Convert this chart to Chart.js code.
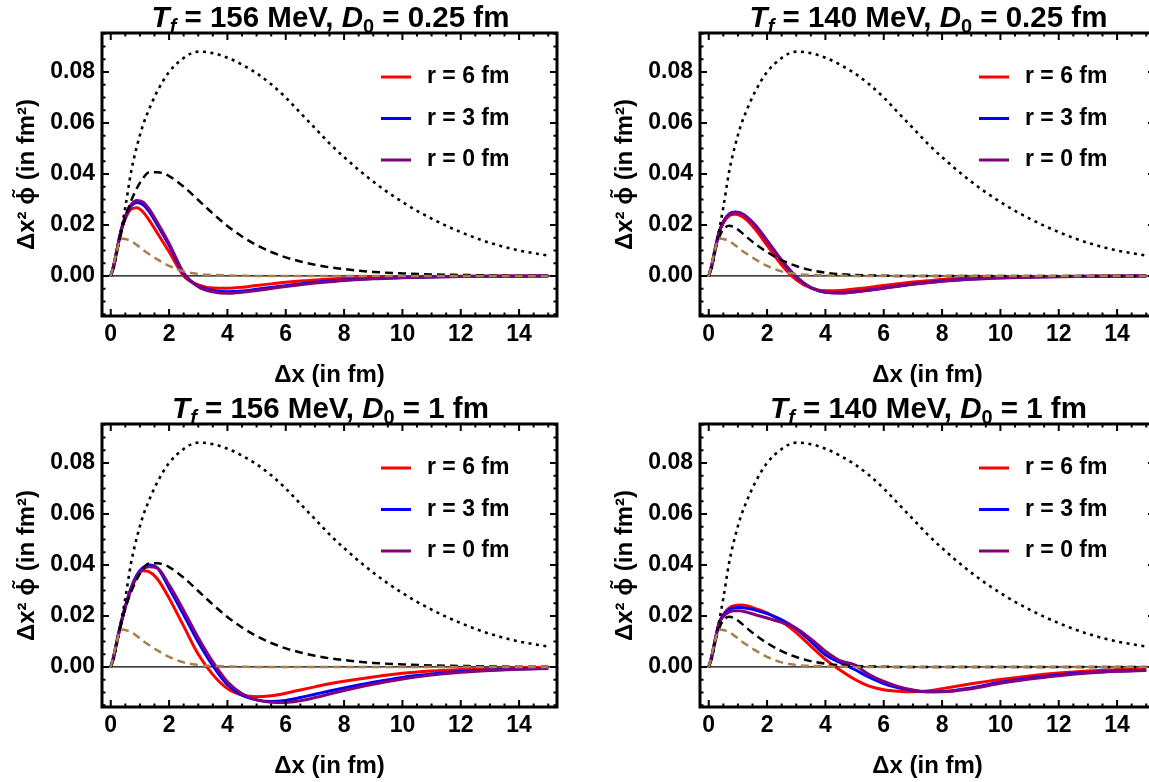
<!DOCTYPE html>
<html>
<head>
<meta charset="utf-8">
<script src="https://cdn.jsdelivr.net/npm/chart.js@4.4.0/dist/chart.umd.min.js"></script>
<style>
html,body{margin:0;padding:0;background:#fff;overflow:hidden;width:1149px;height:782px;}
.p{position:absolute;width:574px;height:391px;}
</style>
</head>
<body>
<div class="p" style="left:0px;top:0px"><canvas id="c0" width="574" height="391"></canvas></div>
<div class="p" style="left:598px;top:0px"><canvas id="c1" width="574" height="391"></canvas></div>
<div class="p" style="left:0px;top:391px"><canvas id="c2" width="574" height="391"></canvas></div>
<div class="p" style="left:598px;top:391px"><canvas id="c3" width="574" height="391"></canvas></div>
<script>
// ---- data ----
const X = [0, 0.1, 0.2, 0.35, 0.5, 0.7, 0.9, 1.1, 1.3, 1.6, 2.0, 2.5, 3.0, 3.5, 4.0, 4.5, 5.0, 5.5, 6.0, 6.5, 7.0, 7.5, 8.0, 9.0, 10, 11, 12, 13, 14, 15];

const dotted = [0, 0.003, 0.0085, 0.0175, 0.027, 0.041, 0.051, 0.059, 0.065, 0.0725, 0.080, 0.0855, 0.088, 0.0874, 0.0856, 0.0829, 0.0795, 0.0752, 0.0700, 0.0640, 0.0580, 0.0520, 0.0466, 0.0370, 0.0290, 0.0225, 0.0172, 0.0130, 0.0100, 0.0080];
const brown = [0, 0.0045, 0.0095, 0.0147, 0.0145, 0.0137, 0.0121, 0.0103, 0.0087, 0.0065, 0.0040, 0.0018, 0.0008, 0.0004, 0.0002, 0.0001, 0, 0, 0, 0, 0, 0, 0, 0, 0, 0, 0, 0, 0, 0];
const dash156 = [0, 0.004, 0.0092, 0.0165, 0.023, 0.0295, 0.0345, 0.0382, 0.0406, 0.0407, 0.0392, 0.0350, 0.0298, 0.0245, 0.0196, 0.0155, 0.0121, 0.0094, 0.0073, 0.0057, 0.0044, 0.0034, 0.0027, 0.0016, 0.001, 0.0006, 0.0004, 0.0002, 0.0001, 0.0001];
const dash140 = [0, 0.004, 0.0092, 0.0150, 0.0183, 0.0197, 0.0190, 0.0173, 0.0153, 0.0125, 0.0094, 0.0062, 0.0039, 0.0023, 0.0013, 0.0007, 0.0004, 0.0002, 0.0001, 0, 0, 0, 0, 0, 0, 0, 0, 0, 0, 0];

const tl_r6 = [0, 0.004, 0.0095, 0.0175, 0.0225, 0.0262, 0.0268, 0.0252, 0.0222, 0.0168, 0.0095, 0.0000, -0.0035, -0.0047, -0.0048, -0.0044, -0.0037, -0.0031, -0.0025, -0.0020, -0.0016, -0.0012, -0.0009, -0.0005, -0.0003, -0.0002, -0.0001, -0.0001, 0, 0];
const tl_r3 = [0, 0.004, 0.0095, 0.0176, 0.0232, 0.0275, 0.0288, 0.0280, 0.0255, 0.0200, 0.0120, 0.0008, -0.0040, -0.0057, -0.0062, -0.0059, -0.0052, -0.0045, -0.0038, -0.0031, -0.0025, -0.0020, -0.0016, -0.0010, -0.0006, -0.0004, -0.0002, -0.0001, -0.0001, 0];
const tl_r0 = [0, 0.004, 0.0095, 0.0177, 0.0235, 0.0280, 0.0296, 0.0290, 0.0265, 0.0210, 0.0128, 0.0012, -0.0042, -0.0062, -0.0068, -0.0064, -0.0057, -0.0049, -0.0041, -0.0034, -0.0028, -0.0023, -0.0018, -0.0011, -0.0007, -0.0004, -0.0002, -0.0001, -0.0001, 0];

const tr_r6 = [0, 0.004, 0.0095, 0.0168, 0.0208, 0.0236, 0.0242, 0.0236, 0.0220, 0.0182, 0.0120, 0.0043, -0.0015, -0.0047, -0.0058, -0.0057, -0.0051, -0.0045, -0.0037, -0.0030, -0.0024, -0.0019, -0.0014, -0.0008, -0.0005, -0.0003, -0.0002, -0.0001, 0, 0];
const tr_r3 = [0, 0.004, 0.0095, 0.0170, 0.0213, 0.0243, 0.0251, 0.0246, 0.0232, 0.0198, 0.0138, 0.0060, -0.0004, -0.0046, -0.0064, -0.0066, -0.0062, -0.0055, -0.0047, -0.0039, -0.0032, -0.0026, -0.0020, -0.0012, -0.0007, -0.0004, -0.0002, -0.0001, -0.0001, 0];
const tr_r0 = [0, 0.004, 0.0095, 0.0170, 0.0212, 0.0241, 0.0249, 0.0245, 0.0232, 0.0199, 0.0140, 0.0062, -0.0002, -0.0045, -0.0064, -0.0067, -0.0063, -0.0056, -0.0048, -0.0040, -0.0033, -0.0027, -0.0021, -0.0013, -0.0008, -0.0005, -0.0003, -0.0002, -0.0001, 0];

const bl_r6 = [0, 0.004, 0.0095, 0.0170, 0.0235, 0.0305, 0.0355, 0.0377, 0.0374, 0.0345, 0.0270, 0.0160, 0.0050, -0.0030, -0.0085, -0.0110, -0.0117, -0.0113, -0.0103, -0.0090, -0.0078, -0.0066, -0.0056, -0.0039, -0.0025, -0.0016, -0.0010, -0.0006, -0.0003, -0.0001];
const bl_r3 = [0, 0.004, 0.0095, 0.0171, 0.0238, 0.0312, 0.0362, 0.0390, 0.0400, 0.0388, 0.0310, 0.0205, 0.0098, 0.0005, -0.0070, -0.0111, -0.0129, -0.0135, -0.0131, -0.0120, -0.0107, -0.0094, -0.0082, -0.0060, -0.0041, -0.0028, -0.0018, -0.0012, -0.0008, -0.0005];
const bl_r0 = [0, 0.004, 0.0095, 0.0171, 0.0237, 0.0308, 0.0357, 0.0384, 0.0393, 0.0388, 0.0322, 0.0222, 0.0115, 0.0020, -0.0058, -0.0105, -0.0129, -0.0138, -0.0139, -0.0132, -0.0120, -0.0106, -0.0092, -0.0068, -0.0047, -0.0032, -0.0021, -0.0014, -0.0009, -0.0006];

const br_r6 = [0, 0.004, 0.0095, 0.0170, 0.0205, 0.0232, 0.0241, 0.0243, 0.0240, 0.0229, 0.0212, 0.0178, 0.0135, 0.0082, 0.0030, -0.0012, -0.0048, -0.0075, -0.0089, -0.0095, -0.0097, -0.0094, -0.0085, -0.0066, -0.0049, -0.0035, -0.0024, -0.0016, -0.0011, -0.0008];
const br_r3 = [0, 0.004, 0.0095, 0.0170, 0.0203, 0.0225, 0.0232, 0.0233, 0.0230, 0.0223, 0.0209, 0.0185, 0.0150, 0.0100, 0.0048, 0.0018, -0.0010, -0.0040, -0.0065, -0.0082, -0.0092, -0.0097, -0.0096, -0.0082, -0.0060, -0.0044, -0.0031, -0.0022, -0.0016, -0.0013];
const br_r0 = [0, 0.004, 0.0095, 0.0168, 0.0198, 0.0216, 0.0221, 0.0220, 0.0215, 0.0205, 0.0192, 0.0175, 0.0152, 0.0110, 0.0062, 0.0025, 0.0008, -0.0030, -0.0057, -0.0077, -0.0090, -0.0097, -0.0097, -0.0085, -0.0064, -0.0047, -0.0034, -0.0024, -0.0017, -0.0014];

const xTicks = [0, 2, 4, 6, 8, 10, 12, 14];
const yTicks = [0, 0.02, 0.04, 0.06, 0.08];
const legendLabels = ['r = 6 fm', 'r = 3 fm', 'r = 0 fm'];
const tempLabels = ['156', '140', '156', '140'];
const d0Labels = ['0.25', '0.25', '1', '1'];
const xTitle = 'Δx (in fm)';
const yTitle = 'Δx² ϕ̃ (in fm²)';

// ---- build ----
const FONT = '"Liberation Sans", Arial, sans-serif';
const pts = arr => X.map((x, i) => ({x: x, y: arr[i]}));

const framePlugin = {
  id: 'frame',
  beforeDatasetsDraw(chart) {
    const {ctx, chartArea: a, scales: {y}} = chart;
    const y0 = y.getPixelForValue(0);
    ctx.save();
    ctx.strokeStyle = '#000'; ctx.lineWidth = 1.2;
    ctx.beginPath(); ctx.moveTo(a.left, y0); ctx.lineTo(a.right, y0); ctx.stroke();
    ctx.restore();
  },
  afterDatasetsDraw(chart) {
    const {ctx, chartArea: a, scales: {x, y}} = chart;
    ctx.save();
    ctx.strokeStyle = '#000'; ctx.lineWidth = 2;
    ctx.beginPath();
    for (let k = 0; k <= 30; k++) {
      const v = k * 0.5; if (v > x.max) break;
      const px = x.getPixelForValue(v);
      const L = (k % 4 === 0) ? 7 : 3.5;
      ctx.moveTo(px, a.bottom); ctx.lineTo(px, a.bottom - L);
      ctx.moveTo(px, a.top); ctx.lineTo(px, a.top + L);
    }
    for (let k = -3; k <= 19; k++) {
      const v = k * 0.005; if (v < y.min || v > y.max) continue;
      const py = y.getPixelForValue(v);
      const L = (k % 4 === 0) ? 7 : 3.5;
      ctx.moveTo(a.left, py); ctx.lineTo(a.left + L, py);
      ctx.moveTo(a.right, py); ctx.lineTo(a.right - L, py);
    }
    ctx.stroke();
    ctx.lineWidth = 3;
    ctx.strokeRect(a.left, a.top, a.right - a.left, a.bottom - a.top);
    ctx.restore();
  },
  afterDraw(chart) {
    const {ctx, chartArea: a} = chart;
    // legend inside plot
    const items = chart.data.datasets.filter(d => d.inLegend).sort((p, q) => p.legendIndex - q.legendIndex);
    ctx.save();
    ctx.font = 'bold 23px ' + FONT; ctx.textBaseline = 'middle'; ctx.textAlign = 'left';
    items.forEach((d, i) => {
      const yy = a.top + 44 + i * 41.5;
      ctx.strokeStyle = d.borderColor; ctx.lineWidth = 3;
      ctx.beginPath(); ctx.moveTo(a.right - 176, yy); ctx.lineTo(a.right - 146, yy); ctx.stroke();
      ctx.fillStyle = '#000'; ctx.fillText(d.label, a.right - 130, yy);
    });
    // title with subscripts
    const segs = chart.options.plugins.subTitle.segments;
    const size = 29.5;
    const fontFor = s => (s.it ? 'italic ' : '') + 'bold ' + (s.sub ? Math.round(size * 0.68) : size) + 'px ' + FONT;
    let w = 0;
    segs.forEach(s => { ctx.font = fontFor(s); w += ctx.measureText(s.t).width; });
    let cx = (a.left + a.right) / 2 - w / 2 + 1;
    const base = 27;
    ctx.textBaseline = 'alphabetic'; ctx.fillStyle = '#000';
    segs.forEach(s => {
      ctx.font = fontFor(s);
      ctx.fillText(s.t, cx, s.sub ? base + 6 : base);
      cx += ctx.measureText(s.t).width;
    });
    ctx.restore();
  }
};

const seriesSets = [
  [tl_r6, tl_r3, tl_r0, dash156],
  [tr_r6, tr_r3, tr_r0, dash140],
  [bl_r6, bl_r3, bl_r0, dash156],
  [br_r6, br_r3, br_r0, dash140]
];
const solidColors = ['#ff0000', '#0000ff', '#800080'];

seriesSets.forEach((set, p) => {
  const datasets = [];
  set.slice(0, 3).forEach((arr, j) => {
    datasets.push({label: legendLabels[j], data: pts(arr), borderColor: solidColors[j], borderWidth: 3,
      inLegend: true, legendIndex: j, order: 5 - j});
  });
  datasets.push({label: 'dotted', data: pts(dotted), borderColor: '#000', borderWidth: 2.6, borderDash: [3, 4.5], order: 2});
  datasets.push({label: 'dashed', data: pts(set[3]), borderColor: '#000', borderWidth: 2.5, borderDash: [8, 5], order: 1});
  datasets.push({label: 'brown', data: pts(brown), borderColor: '#a8804f', borderWidth: 2.5, borderDash: [8, 5], order: 0});
  datasets.forEach(d => { d.pointRadius = 0; d.fill = false; d.cubicInterpolationMode = 'monotone'; d.borderCapStyle = 'butt'; });

  new Chart(document.getElementById('c' + p), {
    type: 'line',
    data: {datasets: datasets},
    plugins: [framePlugin],
    options: {
      responsive: false, animation: false, devicePixelRatio: 1, parsing: true,
      layout: {padding: {top: 33, right: 17, bottom: 0, left: 0}},
      plugins: {
        legend: {display: false}, title: {display: false}, tooltip: {enabled: false},
        subTitle: {segments: [
          {t: 'T', it: true}, {t: 'f', it: true, sub: true}, {t: ' = ' + tempLabels[p] + ' MeV, '},
          {t: 'D', it: true}, {t: '0', sub: true}, {t: ' = ' + d0Labels[p] + ' fm'}
        ]}
      },
      scales: {
        x: {
          type: 'linear', min: -0.3, max: 15.3,
          afterBuildTicks: s => { s.ticks = xTicks.map(v => ({value: v})); },
          afterFit: s => { s.height = 75; },
          grid: {display: false, drawTicks: false}, border: {display: false},
          ticks: {color: '#000', font: {family: FONT, size: 23, weight: 'bold'}, padding: 5, maxRotation: 0, autoSkip: false,
            callback: v => String(v)},
          title: {display: true, text: xTitle, color: '#000', font: {family: FONT, size: 24, weight: 'bold', lineHeight: 1}, padding: {top: 0, bottom: 4}}
        },
        y: {
          type: 'linear', min: -0.0157, max: 0.0953,
          afterBuildTicks: s => { s.ticks = yTicks.map(v => ({value: v})); },
          afterFit: s => { s.width = 102; },
          grid: {display: false, drawTicks: false}, border: {display: false},
          ticks: {color: '#000', font: {family: FONT, size: 23, weight: 'bold'}, padding: 7, autoSkip: false,
            callback: v => Number(v).toFixed(2)},
          title: {display: true, text: yTitle, color: '#000', font: {family: FONT, size: 24, weight: 'bold', lineHeight: 1}, padding: {top: 15, bottom: 0}}
        }
      }
    }
  });
});
</script>
</body>
</html>
